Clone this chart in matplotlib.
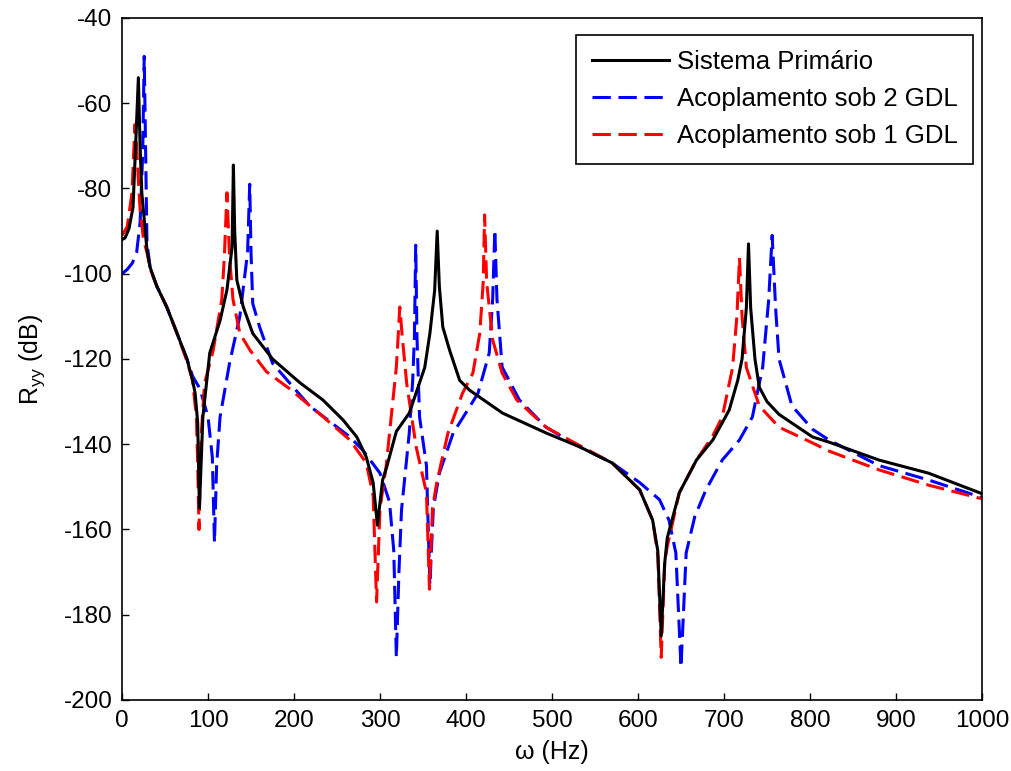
import matplotlib
matplotlib.use("Agg")
import matplotlib.pyplot as plt

plt.rcParams["font.family"] = ["Liberation Sans", "DejaVu Sans"]
plt.rcParams["mathtext.fontset"] = "custom"
plt.rcParams["mathtext.rm"] = "Liberation Sans"
plt.rcParams["mathtext.it"] = "Liberation Sans"
plt.rcParams["axes.unicode_minus"] = False

# Sistema Primário (black, solid)
freq_prim = [0, 3.5, 8, 12.8, 16, 19, 21, 23, 29, 32.5, 40.6, 52, 64, 75.5, 82, 85, 88,
             90, 94, 102, 114, 122, 128, 129.5, 131, 133.5, 141, 152, 175, 207,
             233.5, 257, 273, 284, 292, 297, 303, 307.8, 319, 334, 352, 358, 363.5,
             366.5, 369, 373, 381, 392.6, 404, 442.5, 493.6, 532, 570, 602, 617, 623, 627,
             631, 634, 648, 668, 687, 706, 716, 721, 726, 728.5, 731, 736, 741, 750,
             764, 803, 822, 880, 938, 1000]
db_prim = [-92, -91.6, -89.5, -84.4, -69, -54, -70, -81, -94.4, -98.4, -103, -107.8,
           -114, -120, -125, -128, -135, -155, -133.6, -118.6, -111, -103.8, -93.7,
           -74.5, -90, -101.5, -107.8, -114, -120, -125.6, -129.6, -134.3, -138.3,
           -143, -149, -159, -148.4, -145.3, -137, -132.7, -122, -114, -104, -90,
           -103, -112.5, -118, -125, -127.3, -132.7, -137.4, -140.6, -144.4, -150.7,
           -157.8, -165, -185, -168, -162, -151.4, -143.7, -139, -132, -125, -120,
           -108, -93, -108, -120, -126.6, -130, -133, -138.3, -139.5, -143.7, -146.8,
           -151.6]

# Acoplamento sob 2 GDL (blue, dashed)
freq_2gdl = [0, 6, 12, 17, 21, 24, 25.8, 27.5, 29, 33, 40.6, 52, 64, 75.5, 82, 90.6,
             100, 105, 107.5, 110, 114, 125, 137, 143, 146, 148.5, 150, 152, 160, 175,
             218, 265, 280, 300, 311, 316, 319, 322, 325, 334, 338, 340, 341.5, 343,
             346, 354, 358, 362, 369, 385, 404, 414, 427, 431, 433.5, 436, 442, 462,
             493, 532, 570, 602, 625, 636, 644, 650, 656, 666, 679, 698, 718, 733, 745,
             752, 756, 760, 764, 779, 803, 822, 880, 938, 1000]
db_2gdl = [-100, -99, -97.5, -95, -88, -72, -49, -72, -92.8, -99, -103, -107.8, -114,
           -120, -124, -127, -133.6, -143, -163, -145, -133.6, -121, -110, -100, -95,
           -79, -95, -107, -112.5, -121, -131, -138.3, -141.4, -146.8, -153.5, -165,
           -190, -170, -155.4, -137.4, -125, -115, -93.3, -115, -133.6, -145, -173,
           -155, -146.8, -137.4, -131.3, -128, -118.6, -106, -89.7, -106, -121.9,
           -129.6, -136, -140.6, -144.4, -149, -153, -157.8, -165.5, -192.3, -165.5,
           -157, -150.7, -143.7, -139, -133.6, -121.9, -106, -91, -108, -120, -131,
           -136.5, -139, -145, -148.4, -152.5]

# Acoplamento sob 1 GDL (red, dashed)
freq_1gdl = [0, 6, 11.6, 13.5, 15, 17, 19, 21, 25, 29, 33, 40.6, 52, 64, 75.5, 82, 86.5,
             88, 89.5, 92, 96, 106, 116, 119, 122, 125, 129, 137, 149, 168, 195, 234,
             265, 284, 292, 296, 300, 307, 313, 319, 321, 323, 326, 331, 342, 354,
             357.5, 361, 366, 379, 396, 408, 416, 420, 421.6, 424, 431, 442, 459, 493,
             532, 570, 602, 617, 623, 627, 631, 634, 648, 668, 687, 698, 710, 715, 718,
             721, 726, 741, 764, 803, 822, 880, 938, 1000]
db_1gdl = [-91, -89, -81, -72, -65, -70, -78, -85, -92, -95, -99, -103, -107.8, -114,
           -120.5, -125, -133.6, -145, -160, -138, -125.7, -118, -106, -96, -81, -96,
           -106, -114, -118, -123, -127, -133.6, -139, -144.4, -152, -177, -155,
           -145.4, -133.6, -121.9, -115, -107.8, -115, -125.7, -140.6, -151.4, -174,
           -155, -149, -137.4, -128, -123.3, -114, -102, -86.2, -102, -115.5, -123.3,
           -129.6, -136, -140.3, -144.4, -150.7, -157.8, -166, -190, -168, -164,
           -151.4, -143.7, -138, -133.6, -122, -110, -96.3, -110, -122, -131, -136,
           -139.7, -141.6, -146, -149.6, -152.8]

fig = plt.figure(figsize=(10.11, 7.71), dpi=100)
ax = fig.add_axes([0.1207, 0.0921, 0.8506, 0.8846])

lw = 2.2
ax.plot(freq_prim, db_prim, color="black", linewidth=lw, label="Sistema Primário", zorder=3)
ax.plot(freq_2gdl, db_2gdl, color="#0000ff", linewidth=lw, dashes=(6, 2.5),
        label="Acoplamento sob 2 GDL", zorder=2)
ax.plot(freq_1gdl, db_1gdl, color="#ff0000", linewidth=lw, dashes=(6, 2.5),
        label="Acoplamento sob 1 GDL", zorder=2)

ax.set_xlim(0, 1000)
ax.set_ylim(-200, -40)
ax.set_xticks(range(0, 1001, 100))
ax.set_yticks(range(-200, -39, 20))
ax.tick_params(direction="in", length=5, width=1, labelsize=17.5, top=False, right=False)
ax.tick_params(axis="y", pad=7)
ax.tick_params(axis="x", pad=7)
for spine in ax.spines.values():
    spine.set_linewidth(1.2)
    spine.set_color("black")

ax.set_xlabel("ω (Hz)", fontsize=18, labelpad=6)
ax.set_ylabel("R$_{yy}$ (dB)", fontsize=18, labelpad=12)

leg = ax.legend(loc="upper right", bbox_to_anchor=(0.9895, 0.975), borderaxespad=0,
                fontsize=18.5, fancybox=False, framealpha=1, edgecolor="black",
                handlelength=3.0, handletextpad=0.3, labelspacing=0.5, borderpad=0.6)
leg.get_frame().set_linewidth(1.2)

fig.savefig("out.png", dpi=100, facecolor="white")
